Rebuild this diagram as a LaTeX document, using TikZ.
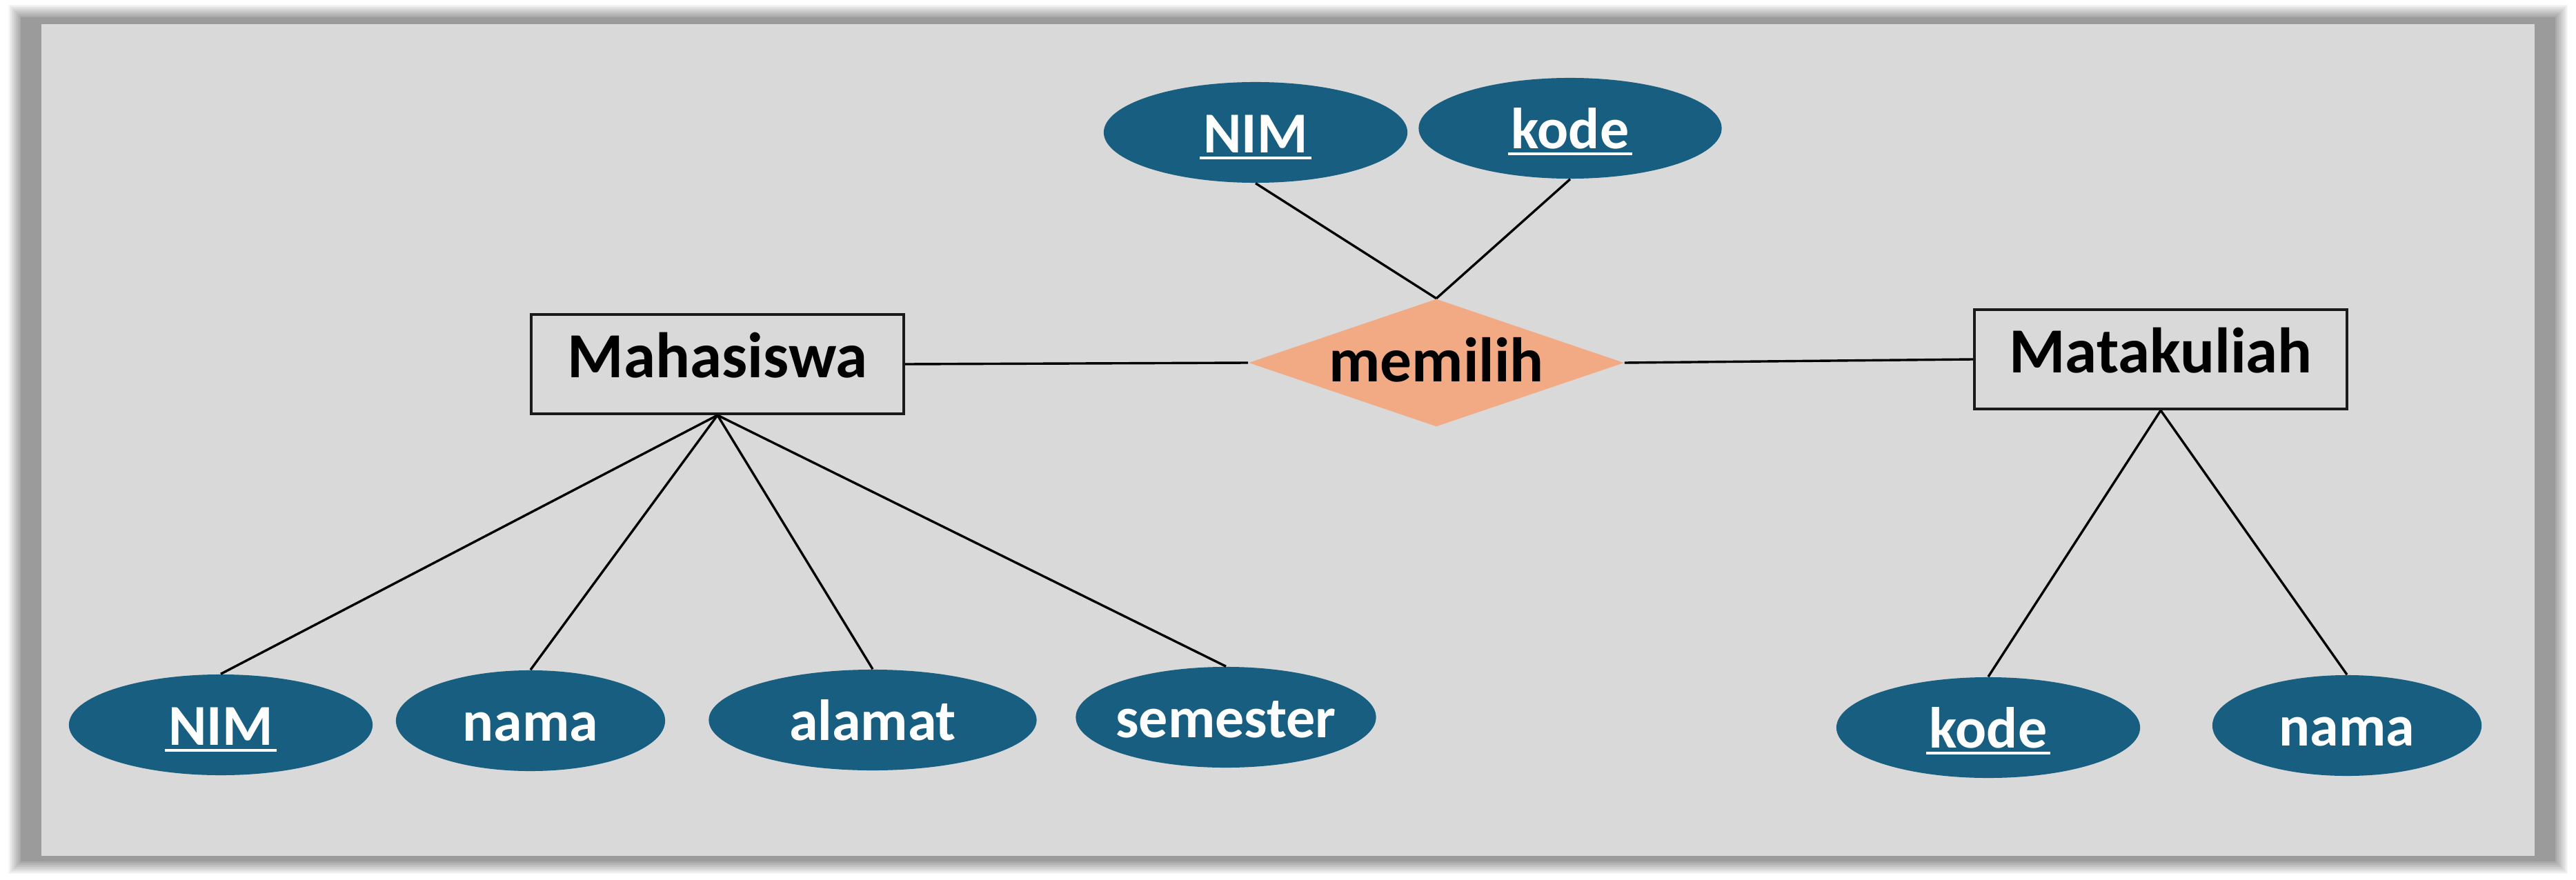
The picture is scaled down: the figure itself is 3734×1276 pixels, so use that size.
\documentclass[tikz,border=0pt]{standalone}
\usepackage{fontspec}
\setmainfont{Carlito}
\usetikzlibrary{shapes.geometric}
\definecolor{panel}{HTML}{D9D9D9}
\definecolor{attr}{RGB}{23,94,128}
\definecolor{rel}{RGB}{242,170,132}
\definecolor{shadowc}{HTML}{9B9B9B}
\definecolor{edgec}{HTML}{1A1A1A}
\newcommand\keyul[1]{\setbox0\hbox{#1}\rlap{\hspace{-0.05cm}\rule[-0.10cm]{\dimexpr\wd0+0.1cm\relax}{0.04cm}}\box0}
\begin{document}
\begin{tikzpicture}[x=0.01cm,y=-0.01cm,
  entity/.style={draw=edgec, line width=0.04cm, minimum width=5.40cm, minimum height=1.44cm,
    inner sep=0pt, text height=0.61cm, text depth=0.23cm,
    font=\fontsize{26.5pt}{30pt}\selectfont\bfseries},
  relation/.style={diamond, fill=rel, minimum width=5.44cm, minimum height=1.85cm, aspect=2.9,
    inner sep=0pt, text height=0.62cm, text depth=0.08cm,
    font=\fontsize{26pt}{30pt}\selectfont\bfseries},
  attrib/.style={ellipse, fill=attr, text=white, minimum height=1.46cm, inner ysep=0pt, inner xsep=-0.6cm,
    text height=0.58cm, text depth=0cm,
    font=\fontsize{23.9pt}{28pt}\selectfont\bfseries},
  conn/.style={line width=0.034cm, black}]
\useasboundingbox (0,0) rectangle (3734,1276);
\fill[white] (0,0) rectangle (3734,1276);
% shadow
\foreach \i in {1,...,12}
  \fill[black,opacity=0.03] (30-1.5*\i,25-1.5*\i) rectangle (3704+1.5*\i,1249+1.5*\i);
\fill[shadowc] (30,25) rectangle (3704,1249);
\fill[panel] (60,35) rectangle (3674,1241);

% nodes
\node[entity] (mhs) at (1040,528) {Mahasiswa};
\node[entity] (mk) at (3132,521) {Matakuliah};
\node[relation] (mem) at (2082,526) {memilih};

\node[attrib, minimum width=4.40cm] (tnim) at (1820,192) {\keyul{NIM}};
\node[attrib, minimum width=4.39cm] (tkode) at (2276,186) {\keyul{kode}};

\node[attrib, minimum width=4.40cm] (bnim) at (320,1051) {\keyul{NIM}};
\node[attrib, minimum width=3.90cm] (bnama) at (769,1045) {nama};
\node[attrib, minimum width=4.75cm] (balamat) at (1265,1044) {alamat};
\node[attrib, minimum width=4.35cm] (bsem) at (1777,1040) {semester};
\node[attrib, minimum width=4.40cm] (bkode) at (2882,1055) {\keyul{kode}};
\node[attrib, minimum width=3.90cm] (bnama2) at (3402,1052) {nama};

% connectors
\draw[conn] (mhs.east) -- (mem.west);
\draw[conn] (mem.east) -- (mk.west);
\draw[conn] (mem.north) -- (tnim.south);
\draw[conn] (mem.north) -- (tkode.south);
\draw[conn] (mhs.south) -- (bnim.north);
\draw[conn] (mhs.south) -- (bnama.north);
\draw[conn] (mhs.south) -- (balamat.north);
\draw[conn] (mhs.south) -- (bsem.north);
\draw[conn] (mk.south) -- (bkode.north);
\draw[conn] (mk.south) -- (bnama2.north);
\end{tikzpicture}
\end{document}
